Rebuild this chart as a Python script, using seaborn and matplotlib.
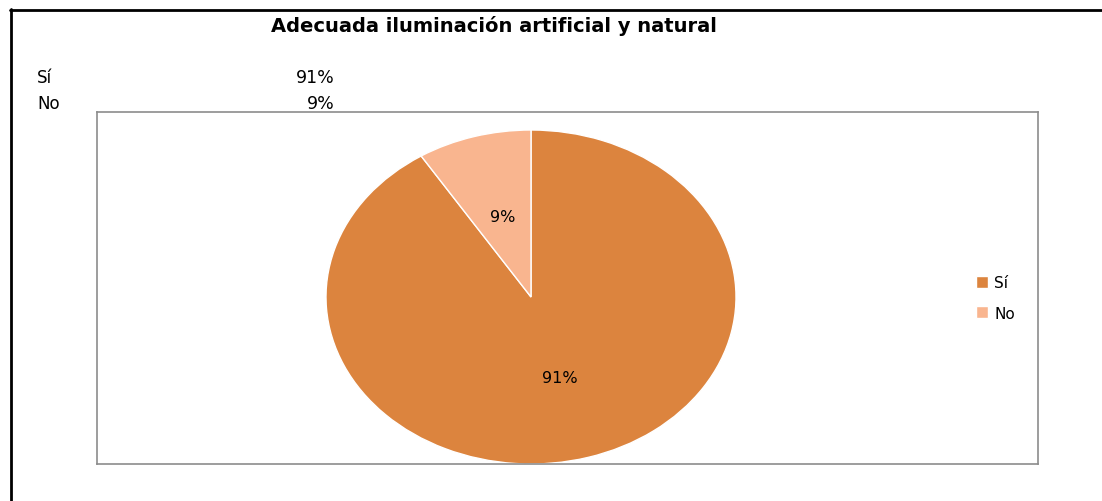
import matplotlib
matplotlib.use('Agg')
import matplotlib.pyplot as plt
import seaborn as sns
from matplotlib.lines import Line2D

# data
categories = ['Sí', 'No']
values = [91, 9]
colors = ['#DC843E', '#F9B58F']
title = 'Adecuada iluminación artificial y natural'

sns.set_style('white')
plt.rcParams['font.family'] = ['DejaVu Sans']
plt.rcParams['text.color'] = 'black'

fig = plt.figure(figsize=(11.02, 5.02), dpi=100)

# outer black frame (top and left only, as in the reference)
fig.add_artist(Line2D([10 / 1102, 1.0], [1 - 11 / 502, 1 - 11 / 502], color='black', lw=2, transform=fig.transFigure))
fig.add_artist(Line2D([11 / 1102, 11 / 1102], [0.0, 1 - 10 / 502], color='black', lw=2, transform=fig.transFigure))

fig.text(494 / 1102, 1 - 26 / 502, title, ha='center', va='center', fontsize=14, fontweight='bold')

# little table of values above the plot area
for i, (cat, val) in enumerate(zip(categories, values)):
    y = 1 - (78 + 26 * i) / 502
    fig.text(37 / 1102, y, cat, ha='left', va='center', fontsize=12)
    fig.text(335 / 1102, y, f'{val}%', ha='right', va='center', fontsize=12.5)

# plot area
ax = fig.add_axes([97 / 1102, 1 - 465 / 502, 941 / 1102, 352 / 502])
wedges, texts, autotexts = ax.pie(values, colors=colors, startangle=90, counterclock=False,
                                  autopct='%1.0f%%', pctdistance=0.5,
                                  textprops={'fontsize': 11.5, 'color': 'black'})
ax.set_aspect('auto')
ax.set_xlim(-434 / 205, 507 / 205)
ax.set_ylim(-1.0, 185 / 167)
ax.set_frame_on(True)
for s in ax.spines.values():
    s.set_visible(True)
    s.set_color('#8c8c8c')
    s.set_linewidth(1.2)

leg = fig.legend(wedges, categories, loc='center left', bbox_to_anchor=(962 / 1102, 1 - 299 / 502),
                 frameon=False, handlelength=0.8, handleheight=0.8,
                 labelspacing=1.0, handletextpad=0.4, prop={'size': 11})

fig.savefig('out.png', dpi=100)
